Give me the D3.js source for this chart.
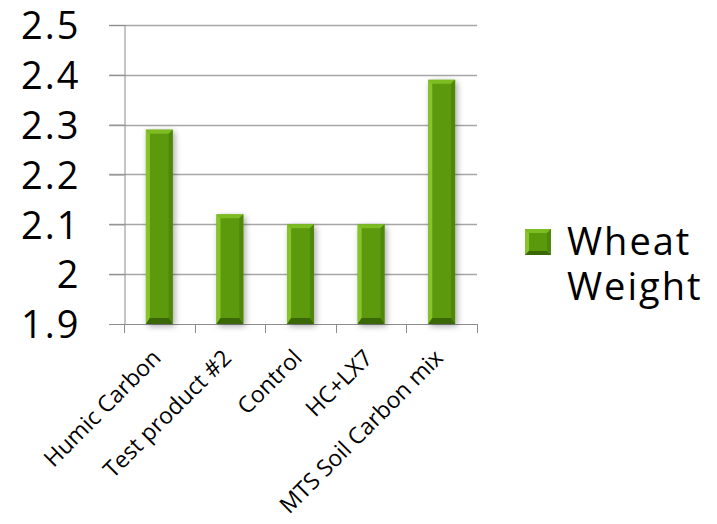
<!DOCTYPE html>
<html><head><meta charset="utf-8">
<script src="https://cdn.jsdelivr.net/npm/d3@7"></script>
<style>
html,body{margin:0;padding:0;background:#fff;}
text{font-family:"Open Sans",sans-serif;fill:#000;}
</style></head>
<body><svg id="c" width="717" height="524"></svg>
<script>
const categories = ["Humic Carbon","Test product #2","Control","HC+LX7","MTS Soil Carbon mix"];
const values = [2.29, 2.12, 2.10, 2.10, 2.39];
const yTicks = [1.9, 2.0, 2.1, 2.2, 2.3, 2.4, 2.5];
const yTickLabels = ["1.9","2","2.1","2.2","2.3","2.4","2.5"];
const seriesName = ["Wheat","Weight"];

(function(){
const svg = d3.select("#c");
const pL = 124, pR = 477, pT = 25, pB = 324;
const x = d3.scaleBand().domain(categories).range([pL, pR]).paddingInner(0.62).paddingOuter(0.31);
const xc = d3.scaleBand().domain(categories).range([pL, pR]);
const y = d3.scaleLinear().domain([1.9, 2.5]).range([pB, pT]);

const defs = svg.append("defs");
const f = defs.append("filter").attr("id","sh").attr("x","-50%").attr("y","-20%").attr("width","200%").attr("height","140%");
f.append("feDropShadow").attr("dx",2).attr("dy",2).attr("stdDeviation",3).attr("flood-color","#000").attr("flood-opacity",0.35);

// gridlines
svg.append("g").selectAll("line").data(yTicks.slice(1)).join("line")
  .attr("x1", pL-15).attr("x2", pR)
  .attr("y1", d=>Math.round(y(d))+0.5).attr("y2", d=>Math.round(y(d))+0.5)
  .attr("stroke","#a6a6a6").attr("stroke-width",1.3);

// y axis
const yAxis = d3.axisLeft(y).tickValues(yTicks).tickFormat((d,i)=>yTickLabels[i]).tickSize(15).tickPadding(29);
const gy = svg.append("g").attr("transform",`translate(${pL+0.5},0)`).call(yAxis);
gy.select(".domain").attr("stroke","#8c8c8c");
gy.selectAll(".tick line").attr("stroke","#8c8c8c");
gy.selectAll("text").style("font-size","38px").style("letter-spacing","2px").attr("fill","#000").attr("dy","0.36em");

// x axis
const xAxis = d3.axisBottom(xc).tickSize(0).tickFormat("");
const gx = svg.append("g").attr("transform",`translate(0,${pB+0.5})`).call(xAxis);
gx.select(".domain").attr("stroke","#8c8c8c").attr("d",`M${pL-15},0H${pR}`);
const bounds = categories.map(c=>xc(c)).concat([pR]);
svg.append("g").selectAll("line").data(bounds).join("line")
  .attr("x1",d=>Math.round(d)+0.5).attr("x2",d=>Math.round(d)+0.5)
  .attr("y1",pB).attr("y2",pB+9).attr("stroke","#8c8c8c");

// x labels
svg.append("g").selectAll("text").data(categories).join("text")
  .attr("transform", d=>`translate(${xc(d)+xc.bandwidth()/2-8.5},${pB+24}) rotate(-45)`)
  .attr("text-anchor","end").attr("dy","0.7em")
  .style("font-size","23px").text(d=>d);

// bars
const bars = svg.append("g").selectAll("g").data(categories).join("g");
bars.append("rect").attr("x",d=>x(d)).attr("width",x.bandwidth())
  .attr("y",(d,i)=>y(values[i])).attr("height",(d,i)=>pB-y(values[i]))
  .attr("fill","#5b990c").attr("filter","url(#sh)");
bars.append("path").attr("d",(d,i)=>{const x0=x(d),w=x.bandwidth(),t=y(values[i]);return `M${x0},${t}H${x0+w}L${x0+w-4},${t+4}H${x0+4}Z`;}).attr("fill","#7dbd22");
bars.append("path").attr("d",(d,i)=>{const x0=x(d),t=y(values[i]);return `M${x0},${t}L${x0+4},${t+4}V${pB-6}L${x0},${pB}Z`;}).attr("fill","#86c52a");
bars.append("path").attr("d",(d,i)=>{const x0=x(d),w=x.bandwidth(),t=y(values[i]);return `M${x0+w},${t}L${x0+w-4},${t+4}V${pB-6}L${x0+w},${pB}Z`;}).attr("fill","#4f870a");
bars.append("path").attr("d",(d,i)=>{const x0=x(d),w=x.bandwidth();return `M${x0},${pB}L${x0+4},${pB-6}H${x0+w-4}L${x0+w},${pB}Z`;}).attr("fill","#3b6806");

// legend
const lg = svg.append("g");
const lx=525, ly=229, ls=26;
lg.append("rect").attr("x",lx).attr("y",ly).attr("width",ls).attr("height",ls).attr("fill","#5b990c");
lg.append("path").attr("d",`M${lx},${ly}H${lx+ls}L${lx+ls-4},${ly+4}H${lx+4}Z`).attr("fill","#7dbd22");
lg.append("path").attr("d",`M${lx},${ly}L${lx+4},${ly+4}V${ly+ls-4}L${lx},${ly+ls}Z`).attr("fill","#86c52a");
lg.append("path").attr("d",`M${lx},${ly+ls}L${lx+4},${ly+ls-4}H${lx+ls-4}L${lx+ls},${ly+ls}Z`).attr("fill","#3b6806");
lg.append("path").attr("d",`M${lx+ls},${ly}L${lx+ls-4},${ly+4}V${ly+ls-4}L${lx+ls},${ly+ls}Z`).attr("fill","#4f870a");
lg.selectAll("text").data(seriesName).join("text")
  .attr("x",567).attr("y",(d,i)=>255+i*45).style("font-size","38px").style("letter-spacing","2px").text(d=>d);
})();
</script></body></html>
